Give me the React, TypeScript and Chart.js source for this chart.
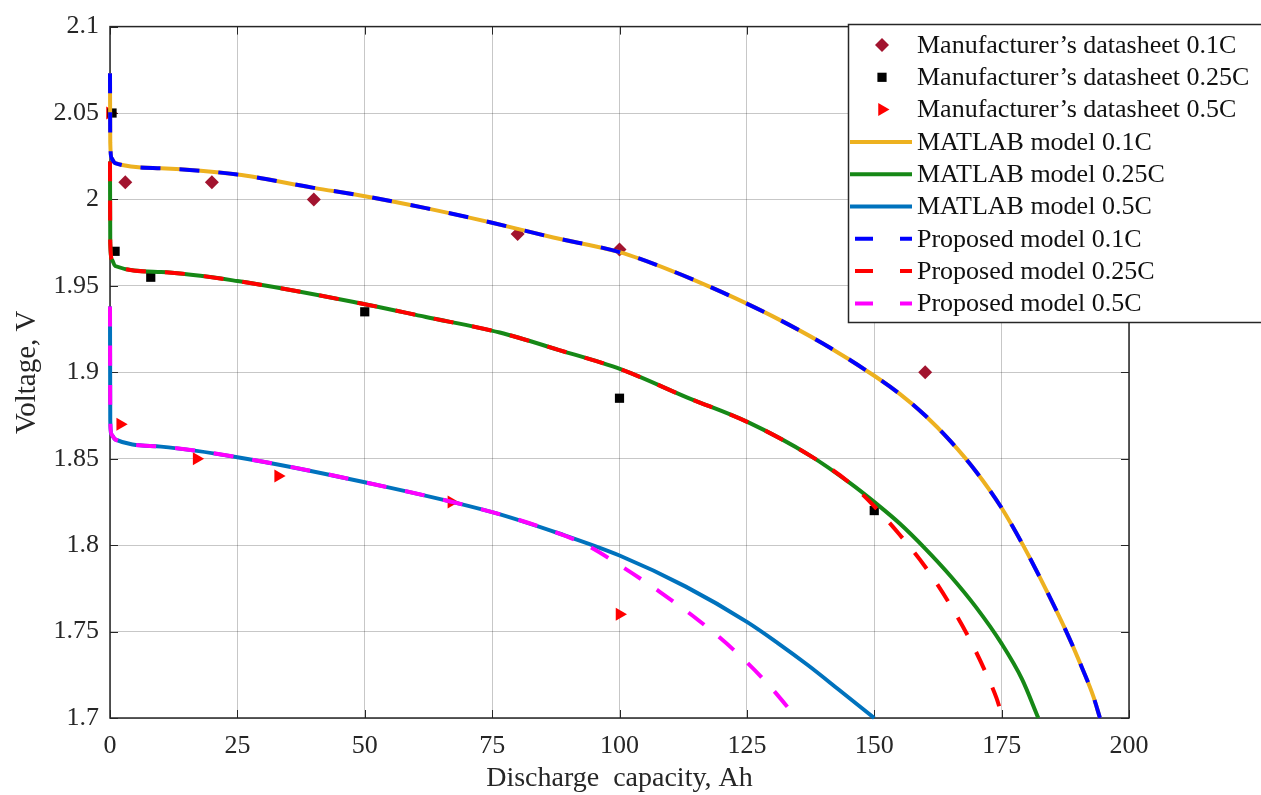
import React, { useEffect, useRef } from 'react';
import { Chart, registerables } from 'chart.js';

Chart.register(...registerables);

const FONT = "'Liberation Serif', 'Times New Roman', serif";

// ---------- axis ticks ----------
const xTickValues = [0, 25, 50, 75, 100, 125, 150, 175, 200];
const xTickLabels = ['0', '25', '50', '75', '100', '125', '150', '175', '200'];
const yTickValues = [1.7, 1.75, 1.8, 1.85, 1.9, 1.95, 2.0, 2.05, 2.1];
const yTickLabels = ['1.7', '1.75', '1.8', '1.85', '1.9', '1.95', '2', '2.05', '2.1'];

// ---------- manufacturer's datasheet points ----------
const ds01X = [3, 20, 40, 80, 100, 160];
const ds01Y = [2.01, 2.01, 2.0, 1.98, 1.971, 1.9];
const ds025X = [0.4, 1, 8, 50, 100, 150];
const ds025Y = [2.05, 1.97, 1.955, 1.935, 1.885, 1.82];
const ds05X = [0, 2, 17, 33, 67, 100];
const ds05Y = [2.05, 1.87, 1.85, 1.84, 1.825, 1.76];

// ---------- MATLAB model curves ----------
const m01X = [0, 0.05, 0.3, 1, 10, 25, 40, 50, 62, 75, 87, 100, 110, 120, 130, 140, 150, 155, 160, 165, 170, 175, 179.2, 183, 187.7, 191, 193, 194.3];
const m01Y = [2.073, 2.033, 2.024, 2.021, 2.018, 2.0144, 2.0067, 2.0019, 1.995, 1.9865, 1.978, 1.9695, 1.959, 1.9465, 1.9325, 1.9165, 1.898, 1.8875, 1.875, 1.86, 1.8425, 1.8215, 1.8, 1.7785, 1.75, 1.7275, 1.7125, 1.7];
const m025X = [0, 0.05, 0.4, 1, 10, 25, 50, 62, 76.5, 88, 100.2, 113.2, 125.3, 137.4, 145.2, 150.4, 155, 160, 165, 170, 175, 179, 182.2];
const m025Y = [2.022, 1.975, 1.965, 1.9615, 1.958, 1.9528, 1.9394, 1.932, 1.923, 1.913, 1.9018, 1.8855, 1.871, 1.8518, 1.836, 1.824, 1.8125, 1.798, 1.782, 1.764, 1.743, 1.7225, 1.7];
const m05X = [0, 0.05, 0.3, 1, 10, 25, 50, 75, 88.3, 100, 113, 125, 131, 137, 143, 150];
const m05Y = [1.938, 1.872, 1.864, 1.8612, 1.857, 1.8509, 1.8364, 1.8191, 1.8066, 1.794, 1.776, 1.7556, 1.7435, 1.7305, 1.7165, 1.7];

// ---------- Proposed model curves ----------
const p01X = [0, 0.05, 0.3, 1, 10, 25, 40, 50, 62, 75, 87, 100, 110, 120, 130, 140, 150, 155, 160, 165, 170, 175, 179.2, 183, 187.7, 191, 193, 194.3];
const p01Y = [2.073, 2.033, 2.024, 2.021, 2.018, 2.0144, 2.0067, 2.0019, 1.995, 1.9865, 1.978, 1.9695, 1.959, 1.9465, 1.9325, 1.9165, 1.898, 1.8875, 1.875, 1.86, 1.8425, 1.8215, 1.8, 1.7785, 1.75, 1.7275, 1.7125, 1.7];
const p025X = [0, 0.05, 0.4, 1, 10, 25, 50, 62, 76.5, 88, 100.2, 113.2, 125.3, 137.4, 145.2, 150, 155, 160, 165, 169, 172, 174, 175.2];
const p025Y = [2.022, 1.975, 1.965, 1.9615, 1.958, 1.9528, 1.9394, 1.932, 1.923, 1.913, 1.9018, 1.8855, 1.871, 1.8518, 1.836, 1.8225, 1.806, 1.7875, 1.765, 1.744, 1.7255, 1.7115, 1.7];
const p05X = [0, 0.05, 0.3, 1, 10, 25, 50, 75, 85, 93.5, 100.4, 107.9, 115.3, 122.3, 128.7, 134.8];
const p05Y = [1.938, 1.872, 1.864, 1.8612, 1.857, 1.8509, 1.8364, 1.8191, 1.81, 1.8, 1.7877, 1.773, 1.757, 1.7397, 1.721, 1.7];

const zip = (xs: number[], ys: number[]) => xs.map((x, i) => ({ x, y: ys[i] }));

const TEXT = '#262626';

const boxPlugin = {
  id: 'matlabBox',
  beforeDatasetsDraw(chart: any) {
    const { ctx, chartArea: a, scales } = chart;
    ctx.save();
    ctx.strokeStyle = TEXT;
    ctx.lineWidth = 1;
    const tl = 8;
    const seg = (x1: number, y1: number, x2: number, y2: number) => {
      ctx.beginPath();
      ctx.moveTo(x1, y1);
      ctx.lineTo(x2, y2);
      ctx.stroke();
    };
    xTickValues.forEach((v) => {
      const px = Math.round(scales.x.getPixelForValue(v)) + 0.5;
      seg(px, a.bottom, px, a.bottom - tl);
      seg(px, a.top, px, a.top + tl);
    });
    yTickValues.forEach((v) => {
      const py = Math.round(scales.y.getPixelForValue(v)) + 0.5;
      seg(a.left, py, a.left + tl, py);
      seg(a.right, py, a.right - tl, py);
    });
    ctx.lineWidth = 1.5;
    ctx.strokeRect(a.left, a.top, a.right - a.left, a.bottom - a.top);
    ctx.restore();
  },
};

const drawMarker = (ctx: CanvasRenderingContext2D, style: string, x: number, y: number, r: number, color: string) => {
  ctx.fillStyle = color;
  ctx.beginPath();
  if (style === 'rectRot') {
    ctx.moveTo(x, y - r);
    ctx.lineTo(x + r, y);
    ctx.lineTo(x, y + r);
    ctx.lineTo(x - r, y);
  } else if (style === 'rect') {
    const s = r * Math.SQRT1_2;
    ctx.rect(x - s, y - s, 2 * s, 2 * s);
  } else {
    ctx.moveTo(x + r, y);
    ctx.lineTo(x - r / 2, y - r * 0.866);
    ctx.lineTo(x - r / 2, y + r * 0.866);
  }
  ctx.closePath();
  ctx.fill();
};

const legendPlugin = {
  id: 'boxLegend',
  afterDraw(chart: any) {
    const ctx: CanvasRenderingContext2D = chart.ctx;
    const left = 848.5;
    const top = 24.5;
    const bottom = 322.5;
    const right = 1270;
    ctx.save();
    ctx.fillStyle = '#ffffff';
    ctx.fillRect(left, top, right - left, bottom - top);
    ctx.strokeStyle = TEXT;
    ctx.lineWidth = 1.5;
    ctx.strokeRect(left, top, right - left, bottom - top);
    const y0 = 45;
    const rowH = 32.3;
    ctx.font = `26px ${FONT}`;
    ctx.textBaseline = 'middle';
    ctx.textAlign = 'left';
    chart.data.datasets.forEach((ds: any, i: number) => {
      const y = y0 + i * rowH;
      if (ds.showLine) {
        ctx.strokeStyle = ds.borderColor;
        ctx.lineWidth = ds.borderWidth;
        ctx.lineCap = 'butt';
        ctx.beginPath();
        if (ds.borderDash && ds.borderDash.length) {
          ctx.moveTo(855, y);
          ctx.lineTo(873, y);
          ctx.moveTo(900, y);
          ctx.lineTo(912, y);
        } else {
          ctx.moveTo(850, y);
          ctx.lineTo(912, y);
        }
        ctx.stroke();
      } else {
        drawMarker(ctx, ds.pointStyle, 882, y, ds.pointRadius, ds.pointBackgroundColor);
      }
      ctx.fillStyle = '#111111';
      ctx.fillText(ds.label, 917, y + 1);
    });
    ctx.restore();
  },
};

export default function App() {
  const ref = useRef<HTMLCanvasElement>(null);

  useEffect(() => {
    if (!ref.current) return;
    const lineDs = (label: string, xs: number[], ys: number[], color: string, dashed: boolean, order: number) => ({
      label,
      data: zip(xs, ys),
      showLine: true,
      borderColor: color,
      backgroundColor: color,
      borderWidth: 4,
      borderDash: dashed ? [20, 19] : [],
      pointRadius: 0,
      pointHoverRadius: 0,
      cubicInterpolationMode: 'monotone',
      fill: false,
      clip: false,
      order,
    });
    const markDs = (label: string, xs: number[], ys: number[], color: string, style: string, r: number, rot: number, order: number) => ({
      label,
      data: zip(xs, ys),
      showLine: false,
      pointStyle: style,
      pointRadius: r,
      pointHoverRadius: r,
      pointRotation: rot,
      pointBackgroundColor: color,
      pointBorderColor: color,
      pointBorderWidth: 0,
      backgroundColor: color,
      borderColor: color,
      clip: false,
      order,
    });

    const chart = new Chart(ref.current, {
      type: 'scatter',
      data: {
        datasets: [
          markDs('Manufacturer\u2019s datasheet 0.1C', ds01X, ds01Y, '#A2142F', 'rectRot', 7, 0, 6),
          markDs('Manufacturer\u2019s datasheet 0.25C', ds025X, ds025Y, '#000000', 'rect', 6.5, 0, 7),
          markDs('Manufacturer\u2019s datasheet 0.5C', ds05X, ds05Y, '#FF0000', 'triangle', 7.5, 90, 8),
          lineDs('MATLAB model 0.1C', m01X, m01Y, '#EDB120', false, 3),
          lineDs('MATLAB model 0.25C', m025X, m025Y, '#168816', false, 4),
          lineDs('MATLAB model 0.5C', m05X, m05Y, '#0072BD', false, 5),
          lineDs('Proposed model 0.1C', p01X, p01Y, '#0000FF', true, 0),
          lineDs('Proposed model 0.25C', p025X, p025Y, '#FF0000', true, 1),
          lineDs('Proposed model 0.5C', p05X, p05Y, '#FF00FF', true, 2),
        ] as any,
      },
      options: {
        responsive: false,
        animation: false,
        events: [],
        layout: { padding: { left: 0, right: 132, top: 25, bottom: 0 } },
        plugins: {
          legend: { display: false },
          tooltip: { enabled: false },
        },
        scales: {
          x: {
            type: 'linear',
            min: 0,
            max: 200,
            afterBuildTicks: (scale: any) => {
              scale.ticks = xTickValues.map((v) => ({ value: v }));
            },
            afterFit: (scale: any) => {
              scale.height = 77;
            },
            ticks: {
              autoSkip: false,
              maxRotation: 0,
              padding: 13,
              color: TEXT,
              font: { family: FONT, size: 26 },
              callback: (_v: any, i: number) => xTickLabels[i],
            },
            grid: { color: 'rgba(0,0,0,0.22)', lineWidth: 1, drawTicks: false },
            border: { display: false },
            title: {
              display: true,
              text: 'Discharge  capacity, Ah',
              color: TEXT,
              font: { family: FONT, size: 28 },
              padding: { top: 0, bottom: 0 },
            },
          },
          y: {
            type: 'linear',
            min: 1.7,
            max: 2.1,
            afterBuildTicks: (scale: any) => {
              scale.ticks = yTickValues.map((v) => ({ value: v }));
            },
            afterFit: (scale: any) => {
              scale.width = 110;
            },
            ticks: {
              autoSkip: false,
              padding: 11,
              color: TEXT,
              font: { family: FONT, size: 26 },
              callback: (_v: any, i: number) => yTickLabels[i],
            },
            grid: { color: 'rgba(0,0,0,0.22)', lineWidth: 1, drawTicks: false },
            border: { display: false },
            title: {
              display: true,
              text: 'Voltage, V',
              color: TEXT,
              font: { family: FONT, size: 29 },
              padding: { top: 10, bottom: 0 },
            },
          },
        },
      } as any,
      plugins: [boxPlugin, legendPlugin],
    });
    return () => chart.destroy();
  }, []);

  return (
    <div style={{ position: 'absolute', left: 0, top: 0, width: 1261, height: 795, background: '#ffffff' }}>
      <canvas ref={ref} width={1261} height={795} style={{ display: 'block', width: 1261, height: 795 }} />
    </div>
  );
}
